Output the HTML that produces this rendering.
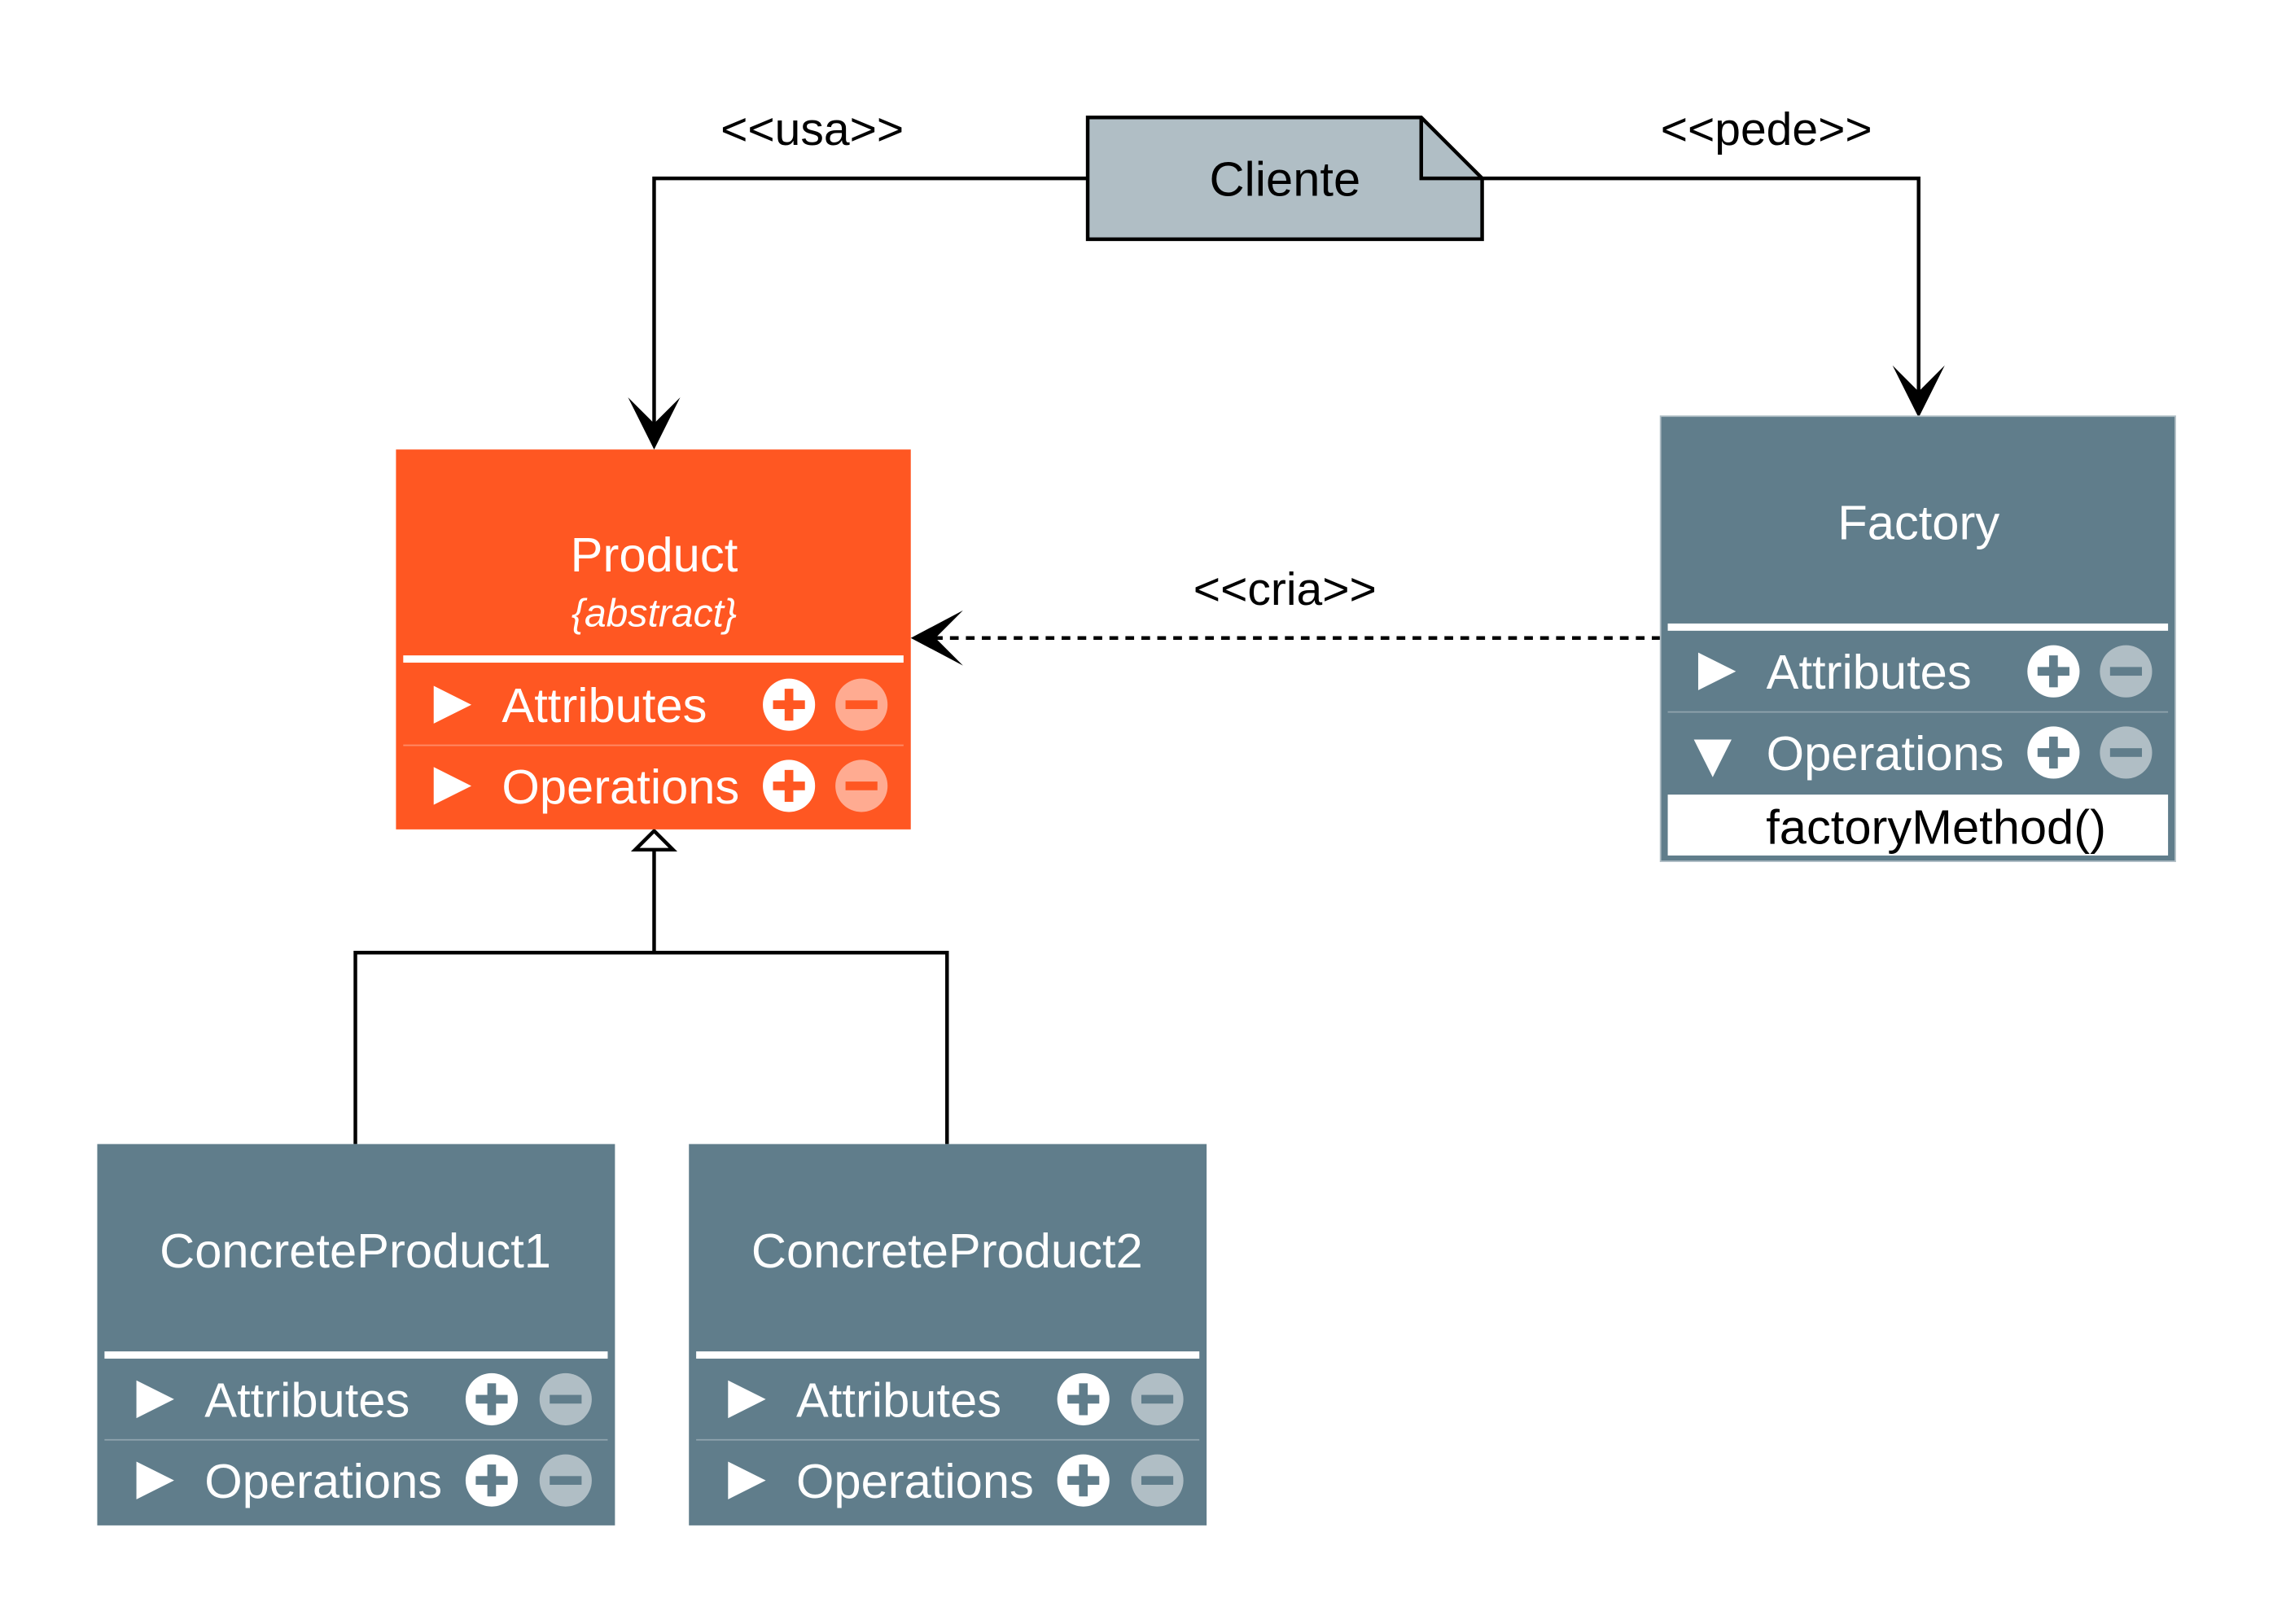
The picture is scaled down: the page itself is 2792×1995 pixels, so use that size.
<!DOCTYPE html>
<html><head><meta charset="utf-8"><style>html,body{margin:0;padding:0;background:#fff}svg{display:block}</style></head>
<body>
<svg width="2792" height="1995" viewBox="0 0 1567.3 1120" xmlns="http://www.w3.org/2000/svg" font-family="Liberation Sans, Arial, sans-serif">
<rect width="1570" height="1120" fill="#fff"/>
<!-- connectors -->
<polyline points="750,123 451,123 451,300" fill="none" stroke="#000" stroke-width="2.5"/>
<path d="M451,310 L433,274 L451,292 L469,274 Z" fill="#000"/>
<polyline points="1022,123 1323,123 1323,278" fill="none" stroke="#000" stroke-width="2.5"/>
<path d="M1323,288 L1305,252 L1323,270 L1341,252 Z" fill="#000"/>
<line x1="1145" y1="440" x2="640" y2="440" stroke="#000" stroke-width="2.5" stroke-dasharray="6,5"/>
<path d="M628,440 L664,421 L645,440 L664,459 Z" fill="#000"/>
<polyline points="245,789 245,657 653,657 653,789" fill="none" stroke="#000" stroke-width="2.5"/>
<line x1="451" y1="657" x2="451" y2="586" stroke="#000" stroke-width="2.5"/>
<path d="M451,573 L438,586 L464,586 Z" fill="#fff" stroke="#000" stroke-width="2.5"/>
<text x="560" y="100" font-size="32" text-anchor="middle">&lt;&lt;usa&gt;&gt;</text>
<text x="1218" y="100" font-size="32" text-anchor="middle">&lt;&lt;pede&gt;&gt;</text>
<text x="886" y="417" font-size="32" text-anchor="middle">&lt;&lt;cria&gt;&gt;</text>
<!-- Cliente -->
<path d="M750,81 L980,81 L1022,123 L1022,165 L750,165 Z" fill="#b0bec5" stroke="#000" stroke-width="2.5"/>
<path d="M980,81 L980,123 L1022,123" fill="none" stroke="#000" stroke-width="2.5"/>
<text x="886" y="135" font-size="33.5" text-anchor="middle">Cliente</text>

<!-- Product -->
<rect x="273" y="310" width="355" height="262" fill="#ff5722"/>
<text x="451" y="394" font-size="33.5" fill="#fff" text-anchor="middle">Product</text>
<text x="451" y="432" font-size="27" fill="#fff" font-style="italic" text-anchor="middle">{abstract}</text>
<rect x="278" y="452" width="345" height="5" fill="#fff"/>
<line x1="278" y1="514" x2="623" y2="514" stroke="#ff8a65" stroke-width="1"/>
<path d="M299,473 L325,486 L299,499 Z" fill="#fff"/>
<text x="346" y="498" font-size="33.5" fill="#fff">Attributes</text>
<circle cx="544" cy="486" r="18" fill="#fff"/><rect x="533" y="483" width="22" height="6" fill="#ff5722"/><rect x="541" y="475" width="6" height="22" fill="#ff5722"/>
<circle cx="594" cy="486" r="18" fill="#ffab91"/><rect x="583" y="483" width="22" height="6" fill="#ff5722"/>
<path d="M299,529 L325,542 L299,555 Z" fill="#fff"/>
<text x="346" y="554" font-size="33.5" fill="#fff">Operations</text>
<circle cx="544" cy="542" r="18" fill="#fff"/><rect x="533" y="539" width="22" height="6" fill="#ff5722"/><rect x="541" y="531" width="6" height="22" fill="#ff5722"/>
<circle cx="594" cy="542" r="18" fill="#ffab91"/><rect x="583" y="539" width="22" height="6" fill="#ff5722"/>

<!-- Factory -->
<rect x="1145" y="287" width="355" height="307" fill="#607d8b" stroke="#b0bec5" stroke-width="1"/>
<text x="1323" y="372" font-size="33.5" fill="#fff" text-anchor="middle">Factory</text>
<rect x="1150" y="430" width="345" height="5" fill="#fff"/>
<line x1="1150" y1="491" x2="1495" y2="491" stroke="#90a4ae" stroke-width="1"/>
<path d="M1171,450 L1197,463 L1171,476 Z" fill="#fff"/>
<text x="1218" y="475" font-size="33.5" fill="#fff">Attributes</text>
<circle cx="1416" cy="463" r="18" fill="#fff"/><rect x="1405" y="460" width="22" height="6" fill="#607d8b"/><rect x="1413" y="452" width="6" height="22" fill="#607d8b"/>
<circle cx="1466" cy="463" r="18" fill="#b0bec5"/><rect x="1455" y="460" width="22" height="6" fill="#607d8b"/>
<path d="M1168,510 L1194,510 L1181,536 Z" fill="#fff"/>
<text x="1218" y="531" font-size="33.5" fill="#fff">Operations</text>
<circle cx="1416" cy="519" r="18" fill="#fff"/><rect x="1405" y="516" width="22" height="6" fill="#607d8b"/><rect x="1413" y="508" width="6" height="22" fill="#607d8b"/>
<circle cx="1466" cy="519" r="18" fill="#b0bec5"/><rect x="1455" y="516" width="22" height="6" fill="#607d8b"/>
<rect x="1150" y="548" width="345" height="42" fill="#fff"/>
<text x="1335" y="582" font-size="33.5" fill="#000" text-anchor="middle">factoryMethod()</text>

<!-- ConcreteProduct1 -->
<g>
<rect x="67" y="789" width="357" height="263" fill="#607d8b"/>
<text x="245" y="874" font-size="33.5" fill="#fff" text-anchor="middle">ConcreteProduct1</text>
<rect x="72" y="932" width="347" height="5" fill="#fff"/>
<line x1="72" y1="993" x2="419" y2="993" stroke="#90a4ae" stroke-width="1"/>
<path d="M94,952 L120,965 L94,978 Z" fill="#fff"/>
<text x="141" y="977" font-size="33.5" fill="#fff">Attributes</text>
<circle cx="339" cy="965" r="18" fill="#fff"/><rect x="328" y="962" width="22" height="6" fill="#607d8b"/><rect x="336" y="954" width="6" height="22" fill="#607d8b"/>
<circle cx="390" cy="965" r="18" fill="#b0bec5"/><rect x="379" y="962" width="22" height="6" fill="#607d8b"/>
<path d="M94,1008 L120,1021 L94,1034 Z" fill="#fff"/>
<text x="141" y="1033" font-size="33.5" fill="#fff">Operations</text>
<circle cx="339" cy="1021" r="18" fill="#fff"/><rect x="328" y="1018" width="22" height="6" fill="#607d8b"/><rect x="336" y="1010" width="6" height="22" fill="#607d8b"/>
<circle cx="390" cy="1021" r="18" fill="#b0bec5"/><rect x="379" y="1018" width="22" height="6" fill="#607d8b"/>
</g>
<!-- ConcreteProduct2 -->
<g transform="translate(408,0)">
<rect x="67" y="789" width="357" height="263" fill="#607d8b"/>
<text x="245" y="874" font-size="33.5" fill="#fff" text-anchor="middle">ConcreteProduct2</text>
<rect x="72" y="932" width="347" height="5" fill="#fff"/>
<line x1="72" y1="993" x2="419" y2="993" stroke="#90a4ae" stroke-width="1"/>
<path d="M94,952 L120,965 L94,978 Z" fill="#fff"/>
<text x="141" y="977" font-size="33.5" fill="#fff">Attributes</text>
<circle cx="339" cy="965" r="18" fill="#fff"/><rect x="328" y="962" width="22" height="6" fill="#607d8b"/><rect x="336" y="954" width="6" height="22" fill="#607d8b"/>
<circle cx="390" cy="965" r="18" fill="#b0bec5"/><rect x="379" y="962" width="22" height="6" fill="#607d8b"/>
<path d="M94,1008 L120,1021 L94,1034 Z" fill="#fff"/>
<text x="141" y="1033" font-size="33.5" fill="#fff">Operations</text>
<circle cx="339" cy="1021" r="18" fill="#fff"/><rect x="328" y="1018" width="22" height="6" fill="#607d8b"/><rect x="336" y="1010" width="6" height="22" fill="#607d8b"/>
<circle cx="390" cy="1021" r="18" fill="#b0bec5"/><rect x="379" y="1018" width="22" height="6" fill="#607d8b"/>
</g>
</svg>
</body></html>
